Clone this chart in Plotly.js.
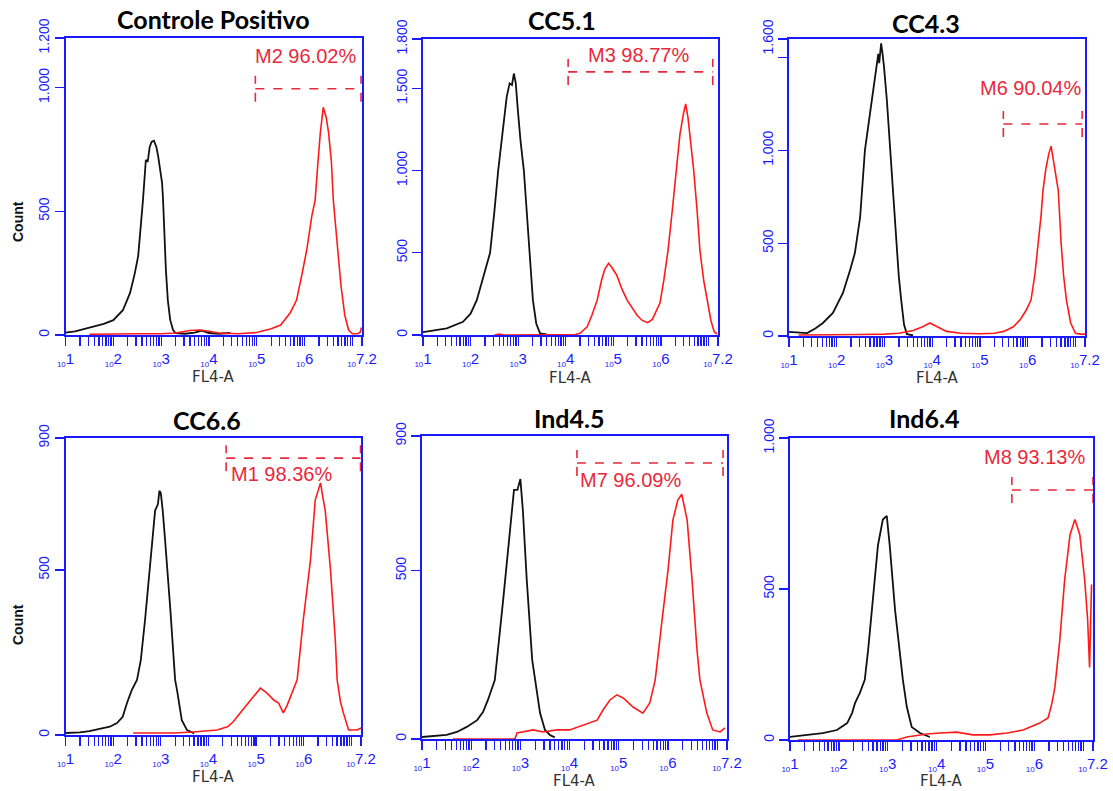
<!DOCTYPE html>
<html>
<head>
<meta charset="utf-8">
<script src="https://cdn.plot.ly/plotly-3.0.1.min.js"></script>
<style>
html,body{margin:0;padding:0;background:#fff;}
#chart{width:1113px;height:791px;}
</style>
</head>
<body>
<div id="chart"></div>
<script>
// ---------------- DATA (x values are log10 of FL4-A, y values are counts) ----------------
const panelTitles = ["Controle Positivo", "CC5.1", "CC4.3", "CC6.6", "Ind4.5", "Ind6.4"];
const yMax = [1200, 1800, 1600, 900, 900, 1000];
const yTickVals = [[0,500,1000,1200],[0,500,1000,1500,1800],[0,500,1000,1500,1600],[0,500,900],[0,500,900],[0,500,1000]];
const yTickText = [["0","500","1.000","1.200"],["0","500","1.000","1.500","1.800"],["0","500","1.000","","1.600"],["0","500","900"],["0","500","900"],["0","500","1.000"]];
const xLabelDecades = [1,2,3,4,5,6];
const xMinorDecades = [1,2,3,4,5,6,7];
const xMaxExp = 7.2;
const xAxisLabel = "FL4-A";
const yAxisLabel = "Count";

const gateNames = ["M2","M3","M6","M1","M7","M8"];
const gatePct = ["96.02%","98.77%","90.04%","98.36%","96.09%","93.13%"];
const gateLo = [4.97, 4.05, 5.49, 4.37, 4.15, 5.54];
const gateHi = [7.18, 7.09, 7.14, 7.19, 7.12, 7.2];
const gateY  = [995, 1600, 1142, 839, 820, 828];

// Controle Positivo
const cpBlackE = [1.0,1.2,1.4,1.6,1.8,2.0,2.2,2.35,2.45,2.52,2.58,2.62,2.68,2.72,2.76,2.8,2.85,2.9,2.94,3.02,3.04,3.07,3.1,3.14,3.19,3.25,3.3,3.5,3.7,3.85,4.0,4.2,4.45];
const cpBlackN = [10,15,25,35,45,60,100,170,250,320,450,545,707,700,760,780,785,760,720,614,545,400,260,140,60,20,8,5,10,18,8,5,8];
const cpRedE = [1.5,2.0,2.5,3.0,3.3,3.6,3.8,4.0,4.2,4.6,5.0,5.3,5.5,5.7,5.83,5.95,6.05,6.15,6.22,6.28,6.33,6.39,6.45,6.5,6.56,6.6,6.68,6.76,6.84,6.92,7.0,7.1,7.16,7.19];
const cpRedN = [3,5,5,5,8,18,20,15,8,5,10,25,40,90,140,250,350,480,545,700,820,920,880,820,700,545,380,200,80,20,5,5,10,30];

// CC5.1
const c51BlackE = [1.0,1.2,1.5,1.84,2.0,2.13,2.25,2.41,2.5,2.58,2.68,2.76,2.82,2.87,2.91,2.95,2.99,3.05,3.12,3.18,3.25,3.31,3.38,3.46,3.6];
const c51BlackN = [18,25,40,80,130,212,330,500,750,1000,1250,1450,1530,1520,1590,1530,1380,1180,1000,760,500,212,70,10,3];
const c51RedE = [2.5,2.6,2.7,3.3,4.2,4.3,4.45,4.55,4.66,4.75,4.82,4.9,4.97,5.07,5.18,5.29,5.4,5.5,5.6,5.72,5.82,5.9,5.98,6.06,6.15,6.24,6.32,6.4,6.47,6.52,6.57,6.63,6.69,6.76,6.82,6.9,6.97,7.05,7.12,7.18];
const c51RedN = [0,5,0,0,3,10,50,120,212,330,400,436,410,365,280,212,160,120,90,75,95,140,194,330,515,760,1000,1220,1340,1405,1320,1160,1000,760,515,330,212,90,20,5];

// CC4.3
const c43BlackE = [1.0,1.2,1.38,1.55,1.71,1.92,2.13,2.28,2.38,2.49,2.59,2.67,2.74,2.8,2.84,2.87,2.89,2.93,2.96,2.99,3.05,3.12,3.18,3.24,3.3,3.35,3.41,3.47,3.6];
const c43BlackN = [22,20,16,40,70,124,232,355,447,640,1000,1150,1270,1400,1450,1520,1470,1577,1520,1450,1270,1000,750,500,320,195,60,10,3];
const c43RedE = [1.2,1.6,2.0,2.5,3.0,3.3,3.6,3.8,3.95,4.1,4.3,4.6,5.0,5.3,5.5,5.7,5.85,5.97,6.07,6.15,6.22,6.28,6.32,6.38,6.44,6.49,6.53,6.58,6.64,6.7,6.75,6.81,6.9,7.0,7.1,7.2];
const c43RedN = [5,5,5,8,10,15,30,50,70,50,25,15,12,15,25,50,90,140,195,330,500,650,785,900,980,1023,960,880,785,500,330,195,70,15,10,10];

// CC6.6
const c66BlackE = [1.0,1.3,1.5,1.72,1.93,2.08,2.2,2.29,2.39,2.5,2.58,2.67,2.78,2.88,2.94,2.97,3.0,3.04,3.09,3.15,3.2,3.3,3.34,3.44,3.55,3.7];
const c66BlackN = [6,8,12,18,25,36,55,97,136,167,227,350,530,680,700,740,733,680,590,480,380,167,136,45,15,5];
const c66RedE = [2.42,3.26,3.68,4.18,4.4,4.52,4.66,4.8,4.94,5.09,5.23,5.37,5.47,5.57,5.65,5.75,5.86,5.99,6.07,6.14,6.24,6.3,6.35,6.4,6.45,6.56,6.66,6.7,6.77,6.83,6.94,7.12,7.2];
const c66RedN = [6,6,9,15,25,40,66,90,115,142,127,106,97,67,90,127,167,350,440,530,712,740,764,720,680,500,290,167,100,67,15,15,21];

// Ind4.5
const i45BlackE = [1.0,1.3,1.5,1.71,1.91,2.12,2.24,2.34,2.48,2.65,2.77,2.87,2.94,3.0,3.05,3.13,3.24,3.3,3.4,3.5,3.6,3.7];
const i45BlackN = [6,9,12,21,36,56,80,116,175,413,590,740,740,772,680,472,235,175,77,27,12,5];
const i45RedE = [1.63,2.89,2.93,3.26,3.46,3.74,4.0,4.27,4.56,4.68,4.82,4.96,5.09,5.29,5.49,5.63,5.74,5.88,6.0,6.1,6.2,6.28,6.39,6.49,6.59,6.65,6.79,6.91,7.06,7.16];
const i45RedN = [0,0,18,27,21,27,27,42,56,86,116,131,122,95,77,107,175,353,500,650,710,727,650,472,265,175,77,27,21,33];

// Ind6.4
const i64BlackE = [1.0,1.35,1.67,1.96,2.17,2.27,2.33,2.43,2.53,2.6,2.7,2.8,2.9,2.98,3.04,3.15,3.31,3.39,3.49,3.66,3.86];
const i64BlackN = [10,17,23,33,56,89,122,156,199,300,465,645,730,742,645,430,199,110,43,23,10];
const i64RedE = [1.16,3.19,3.39,3.8,4.07,4.41,4.74,5.09,5.44,5.77,6.11,6.28,6.36,6.42,6.52,6.62,6.73,6.83,6.93,7.03,7.09,7.13,7.17];
const i64RedN = [0,0,10,20,23,26,17,17,23,33,56,73,122,175,330,530,680,730,680,530,400,240,515];

const blackE = [cpBlackE, c51BlackE, c43BlackE, c66BlackE, i45BlackE, i64BlackE];
const blackN = [cpBlackN, c51BlackN, c43BlackN, c66BlackN, i45BlackN, i64BlackN];
const redE = [cpRedE, c51RedE, c43RedE, c66RedE, i45RedE, i64RedE];
const redN = [cpRedN, c51RedN, c43RedN, c66RedN, i45RedN, i64RedN];

// ---------------- LAYOUT (pixel boxes of each plot frame) ----------------
const W = 1113, H = 791;
const boxes = [
  {l:65.5, r:362, t:38, b:335},
  {l:423, r:718, t:39, b:335},
  {l:789, r:1085, t:39, b:336},
  {l:65.5, r:361, t:438, b:735},
  {l:422, r:727, t:436, b:739},
  {l:790, r:1093, t:438, b:740}
];
const titlePos = [[213,19],[562,20],[926,23],[207,420],[569,418],[924,418]];
const xTitleY = [377,378,378,777,781,781];
const countPos = [[18,222],[18,625]];
// gate label: [mode, dx(px), dy(px)]
const gateLabel = [["center",-3,33],["center",-2,17],["right",1,36],["left",3,-16],["left",1,-17],["right",-6,33]];

const BLUE = "#1a1aff";
const RED = "#ff1a1a";
const GATE = "#e8283c";
const px = v => v / W;
const py = v => 1 - v / H;

const traces = [];
const layout = {
  width: W, height: H,
  margin: {l:0, r:0, t:0, b:0},
  paper_bgcolor: "#ffffff",
  plot_bgcolor: "#ffffff",
  showlegend: false,
  annotations: [],
  shapes: []
};

// labelled decade ticks plus the range end
const SMALL10 = '<sub><span style="font-size:8px">10</span></sub>';
const xTickVals = xLabelDecades.map(d => Math.pow(10, d)).concat([Math.pow(10, xMaxExp)]);
const xTickText = xLabelDecades.map(d => SMALL10 + d).concat([SMALL10 + xMaxExp]);
// unlabelled ticks at every multiple inside each decade
const xMinorVals = [];
xMinorDecades.forEach(d => {
  for (let k = 1; k <= 9; k++) {
    const v = k * Math.pow(10, d);
    if (Math.log10(v) <= xMaxExp + 1e-9) xMinorVals.push(v);
  }
});

for (let i = 0; i < 6; i++) {
  const n = i + 1;
  const xa = n === 1 ? "x" : "x" + n;
  const ya = n === 1 ? "y" : "y" + n;
  const xk = n === 1 ? "xaxis" : "xaxis" + n;
  const yk = n === 1 ? "yaxis" : "yaxis" + n;
  const b = boxes[i];

  traces.push({
    type: "scatter", mode: "lines", xaxis: xa, yaxis: ya,
    x: blackE[i].map(e => Math.pow(10, e)), y: blackN[i],
    line: {color: "#111111", width: 1.8}, hoverinfo: "skip"
  });
  traces.push({
    type: "scatter", mode: "lines", xaxis: xa, yaxis: ya,
    x: redE[i].map(e => Math.pow(10, e)), y: redN[i],
    line: {color: RED, width: 1.6}, hoverinfo: "skip"
  });

  layout[xk] = {
    type: "log", range: [1, xMaxExp], domain: [px(b.l), px(b.r)], anchor: ya,
    showgrid: false, zeroline: false,
    showline: true, linecolor: BLUE, linewidth: 1.8, mirror: true,
    ticks: "outside", ticklen: 9, tickwidth: 1.3, tickcolor: BLUE,
    tickmode: "array", tickvals: xTickVals, ticktext: xTickText,
    minor: {tickmode: "array", tickvals: xMinorVals, ticks: "outside", ticklen: 9, tickwidth: 1.3, tickcolor: BLUE, showgrid: false},
    tickfont: {family: "Liberation Sans, Arial, sans-serif", size: 15, color: BLUE},
    tickangle: 0, fixedrange: true
  };
  layout[yk] = {
    range: [0, yMax[i]], domain: [py(b.b), py(b.t)], anchor: xa,
    showgrid: false, zeroline: false,
    showline: true, linecolor: BLUE, linewidth: 1.8, mirror: true,
    ticks: "outside", ticklen: 9, tickwidth: 1.3, tickcolor: BLUE,
    tickmode: "array", tickvals: yTickVals[i], ticktext: yTickText[i],
    tickfont: {family: "Liberation Sans, Arial, sans-serif", size: 14, color: BLUE},
    tickangle: -90, fixedrange: true
  };

  // panel title
  layout.annotations.push({
    xref: "paper", yref: "paper", x: px(titlePos[i][0]), y: py(titlePos[i][1]),
    xanchor: "center", yanchor: "middle", showarrow: false,
    text: panelTitles[i],
    font: {family: "Lato, 'Open Sans', sans-serif", size: 25, color: "#000", weight: 700}
  });
  // x axis title
  layout.annotations.push({
    xref: "paper", yref: "paper", x: px((b.l + b.r) / 2), y: py(xTitleY[i]),
    xanchor: "center", yanchor: "middle", showarrow: false,
    text: xAxisLabel,
    font: {family: "DejaVu Sans, sans-serif", size: 15, color: "#333"}
  });

  // gate marker
  const lo = Math.pow(10, gateLo[i]), hi = Math.pow(10, gateHi[i]);
  const dash = {color: GATE, width: 1.6, dash: "dash"};
  layout.shapes.push({type: "line", xref: xa, yref: ya, x0: lo, x1: hi, y0: gateY[i], y1: gateY[i], line: dash});
  [lo, hi].forEach(xv => {
    layout.shapes.push({type: "line", xref: xa, yref: ya, ysizemode: "pixel", yanchor: gateY[i],
      x0: xv, x1: xv, y0: -13, y1: 13, line: dash});
  });
  const gl = gateLabel[i];
  let ax, anc;
  if (gl[0] === "center") { ax = (gateLo[i] + gateHi[i]) / 2; anc = "center"; }
  else if (gl[0] === "left") { ax = gateLo[i]; anc = "left"; }
  else { ax = gateHi[i]; anc = "right"; }
  layout.annotations.push({
    xref: xa, yref: ya, x: ax, y: gateY[i], xshift: gl[1], yshift: gl[2],
    xanchor: anc, yanchor: "middle", showarrow: false,
    text: gateNames[i] + " " + gatePct[i],
    font: {family: "Liberation Sans, Arial, sans-serif", size: 20, color: GATE}
  });
}

countPos.forEach(p => {
  layout.annotations.push({
    xref: "paper", yref: "paper", x: px(p[0]), y: py(p[1]),
    xanchor: "center", yanchor: "middle", showarrow: false, textangle: -90,
    text: yAxisLabel,
    font: {family: "Liberation Sans, Arial, sans-serif", size: 14, color: "#111", weight: 700}
  });
});

Plotly.newPlot("chart", traces, layout, {staticPlot: true, displayModeBar: false});
</script>
</body>
</html>
